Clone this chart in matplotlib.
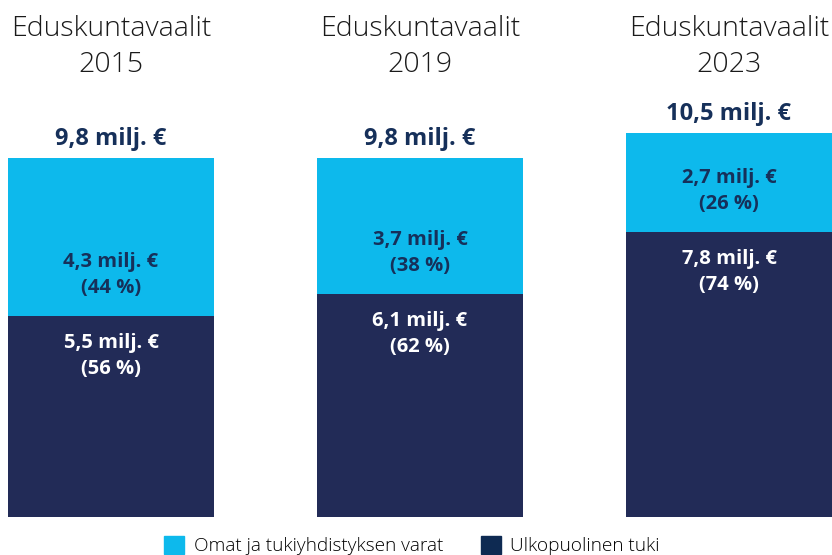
import matplotlib
matplotlib.use("Agg")
import matplotlib.pyplot as plt
from matplotlib.patches import Patch

years = ["2015", "2019", "2023"]
external = [5.5, 6.1, 7.8]   # Ulkopuolinen tuki, milj. €
own = [4.3, 3.7, 2.7]        # Omat ja tukiyhdistyksen varat, milj. €
totals = [9.8, 9.8, 10.5]
ext_pct = [56, 62, 74]
own_pct = [44, 38, 26]

light = "#0DB9EC"
dark = "#222B57"
navy = "#16305A"

plt.rcParams["font.family"] = ["Open Sans", "DejaVu Sans"]

fig = plt.figure(figsize=(8.32, 5.55), dpi=100)
ax = fig.add_axes([0, 1 - 517 / 555, 1, 517 / 555])

x = list(range(len(years)))
ax.bar(x, external, width=0.667, color=dark, linewidth=0)
ax.bar(x, own, bottom=external, width=0.667, color=light, linewidth=0)

ax.set_xlim(-111 / 309, 721 / 309)
ax.set_ylim(0, 517 / 36.6)
ax.axis("off")

def fmt(v):
    return f"{v:.1f}".replace(".", ",")

for i in x:
    ax.text(i, 1 - 47 / 517, f"Eduskuntavaalit\n{years[i]}", transform=ax.get_xaxis_transform(),
            ha="center", va="center", fontsize=20.5, fontweight="light", color="#1a1a1a",
            linespacing=1.4)
    ax.annotate(f"{fmt(totals[i])} milj. €", (i, totals[i]), xytext=(0, 5),
                textcoords="offset points", ha="center", va="bottom",
                fontsize=17, fontweight="bold", color=navy)
    ax.annotate(f"{fmt(own[i])} milj. €\n({own_pct[i]} %)", (i, external[i]), xytext=(0, 29),
                textcoords="offset points", ha="center", va="center",
                fontsize=14.5, fontweight="bold", color=navy, linespacing=1.4)
    ax.annotate(f"{fmt(external[i])} milj. €\n({ext_pct[i]} %)", (i, external[i]), xytext=(0, -29),
                textcoords="offset points", ha="center", va="center",
                fontsize=14.5, fontweight="bold", color="white", linespacing=1.4)

handles = [Patch(color=light, label="Omat ja tukiyhdistyksen varat"),
           Patch(color="#0E2A52", label="Ulkopuolinen tuki")]
fig.legend(handles=handles, loc="upper center", bbox_to_anchor=(412 / 832, 1 - 536 / 555),
           ncol=2, frameon=False, handlelength=1.05, handleheight=1.05,
           handletextpad=0.5, columnspacing=2.0, borderpad=0, borderaxespad=0,
           prop={"weight": "light", "size": 13.7})

fig.savefig("out.png", dpi=100)
